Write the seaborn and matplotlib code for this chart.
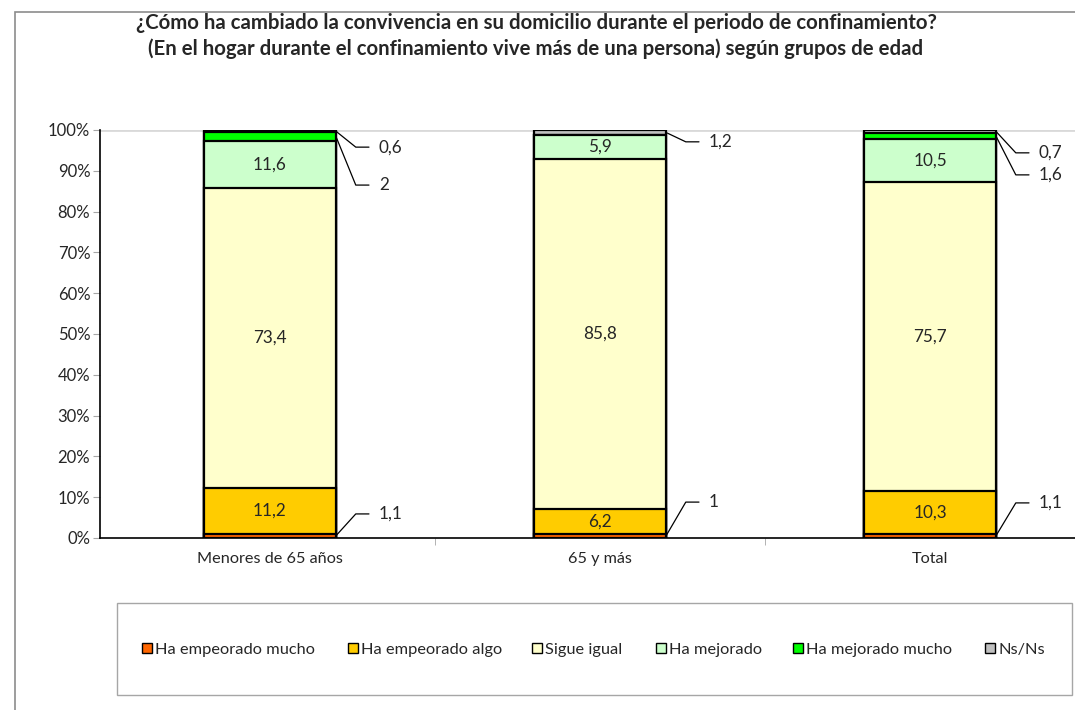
import matplotlib
matplotlib.use("Agg")
import matplotlib.pyplot as plt
from matplotlib.patches import Patch, Rectangle
import seaborn as sns
import pandas as pd
import numpy as np

# datos (porcentajes)
grupos = ['Menores de 65 años', '65 y más', 'Total']
series = ['Ha empeorado mucho', 'Ha empeorado algo', 'Sigue igual',
          'Ha mejorado', 'Ha mejorado mucho', 'Ns/Ns']
empeorado_mucho = [1.1, 1.0, 1.1]
empeorado_algo = [11.2, 6.2, 10.3]
sigue_igual = [73.4, 85.8, 75.7]
mejorado = [11.6, 5.9, 10.5]
mejorado_mucho = [2.0, 0.0, 1.6]
ns_nc = [0.6, 1.2, 0.7]

colores = ['#FF6600', '#FFCC00', '#FFFFCC', '#CCFFCC', '#00FF00', '#C0C0C0']

# altura (en %) del texto de las etiquetas con linea guia
pos_guias = {(0, 0): 5.9, (0, 4): 86.5, (0, 5): 95.8,
             (1, 0): 8.8, (1, 5): 97.1,
             (2, 0): 8.6, (2, 4): 89.0, (2, 5): 94.4}
# posicion horizontal (pixeles) de cada entrada de la leyenda
x_leyenda = [142, 348, 532, 656, 793, 985]

sns.set_style('white')
plt.rcParams['font.family'] = ['Lato', 'DejaVu Sans']

valores = np.array([empeorado_mucho, empeorado_algo, sigue_igual,
                    mejorado, mejorado_mucho, ns_nc])
pct = valores / valores.sum(axis=0) * 100
acum = pct.cumsum(axis=0)

fig = plt.figure(figsize=(10.75, 7.1), dpi=100)
ax = fig.add_axes([100/1075, 172/710, 995/1075, 408/710])

ax.axhline(100, color='#d9d9d9', lw=2, zorder=0)

# barras apiladas: se dibuja el acumulado de arriba hacia abajo
for i in range(len(series) - 1, -1, -1):
    df = pd.DataFrame({'Grupo': grupos, 'Acumulado': acum[i]})
    sns.barplot(x='Grupo', y='Acumulado', data=df, color=colores[i],
                edgecolor='black', linewidth=1.6, width=0.4, ax=ax,
                saturation=1)

ancho = 0.4
for j in range(len(grupos)):
    for i in range(len(series)):
        v = valores[i, j]
        if v == 0:
            continue
        txt = f"{v:g}".replace('.', ',')
        centro = acum[i, j] - pct[i, j] / 2
        if v >= 3:
            ax.text(j, centro, txt, ha='center', va='center', fontsize=12.3)
        else:
            ty = pos_guias[(j, i)]
            x0 = j + ancho / 2
            ax.plot([x0, x0 + 0.06, x0 + 0.1], [centro, ty, ty],
                    color='black', lw=0.9, clip_on=False)
            ax.text(x0 + 0.13, ty, txt, ha='left', va='center', fontsize=12.3)

ax.set_xlim(-0.515, 2.5)
ax.set_ylim(0, 100)
ax.set_yticks(range(0, 101, 10))
ax.set_yticklabels([f"{t}%" for t in range(0, 101, 10)], fontsize=12)
ax.set_xticks(range(3))
ax.set_xticklabels(grupos, fontsize=11.7)
ax.set_xticks([0.5, 1.5], minor=True)
ax.set_xlabel('')
ax.set_ylabel('')
ax.tick_params(axis='x', which='major', length=0, pad=10)
ax.tick_params(axis='x', which='minor', length=5, color='#a6a6a6', direction='out', bottom=True)
ax.tick_params(axis='y', length=5, color='#a6a6a6', direction='out', left=True, pad=2)
sns.despine(ax=ax, top=True, right=True)
ax.spines['left'].set_color('black')
ax.spines['bottom'].set_color('black')
ax.spines['left'].set_linewidth(1.2)
ax.spines['bottom'].set_linewidth(1.2)

fig.text(536/1075, 1 - 36/710,
         '¿Cómo ha cambiado la convivencia en su domicilio durante el periodo de confinamiento?\n'
         '(En el hogar durante el confinamiento vive más de una persona) según grupos de edad',
         ha='center', va='center', fontsize=14.7, fontweight='bold', linespacing=1.37)

# marco exterior y marco de la leyenda
fig.patches.append(Rectangle((15/1075, -0.1), 2, 1 - 12/710 + 0.1, transform=fig.transFigure,
                             fill=False, edgecolor='#8c8c8c', lw=1.2))
fig.patches.append(Rectangle((117/1075, 1 - 695/710), 955/1075, 92/710, transform=fig.transFigure,
                             fill=False, edgecolor='#a6a6a6', lw=1))

for serie, color, xl in zip(series, colores, x_leyenda):
    manija = Patch(facecolor=color, edgecolor='black', lw=1)
    fig.legend([manija], [serie], loc='center left', bbox_to_anchor=(xl/1075, 1 - 650/710),
               frameon=False, fontsize=11.8, handlelength=0.6, handleheight=0.6,
               handletextpad=0.2, borderpad=0, borderaxespad=0)

plt.savefig('out.png', dpi=100)
